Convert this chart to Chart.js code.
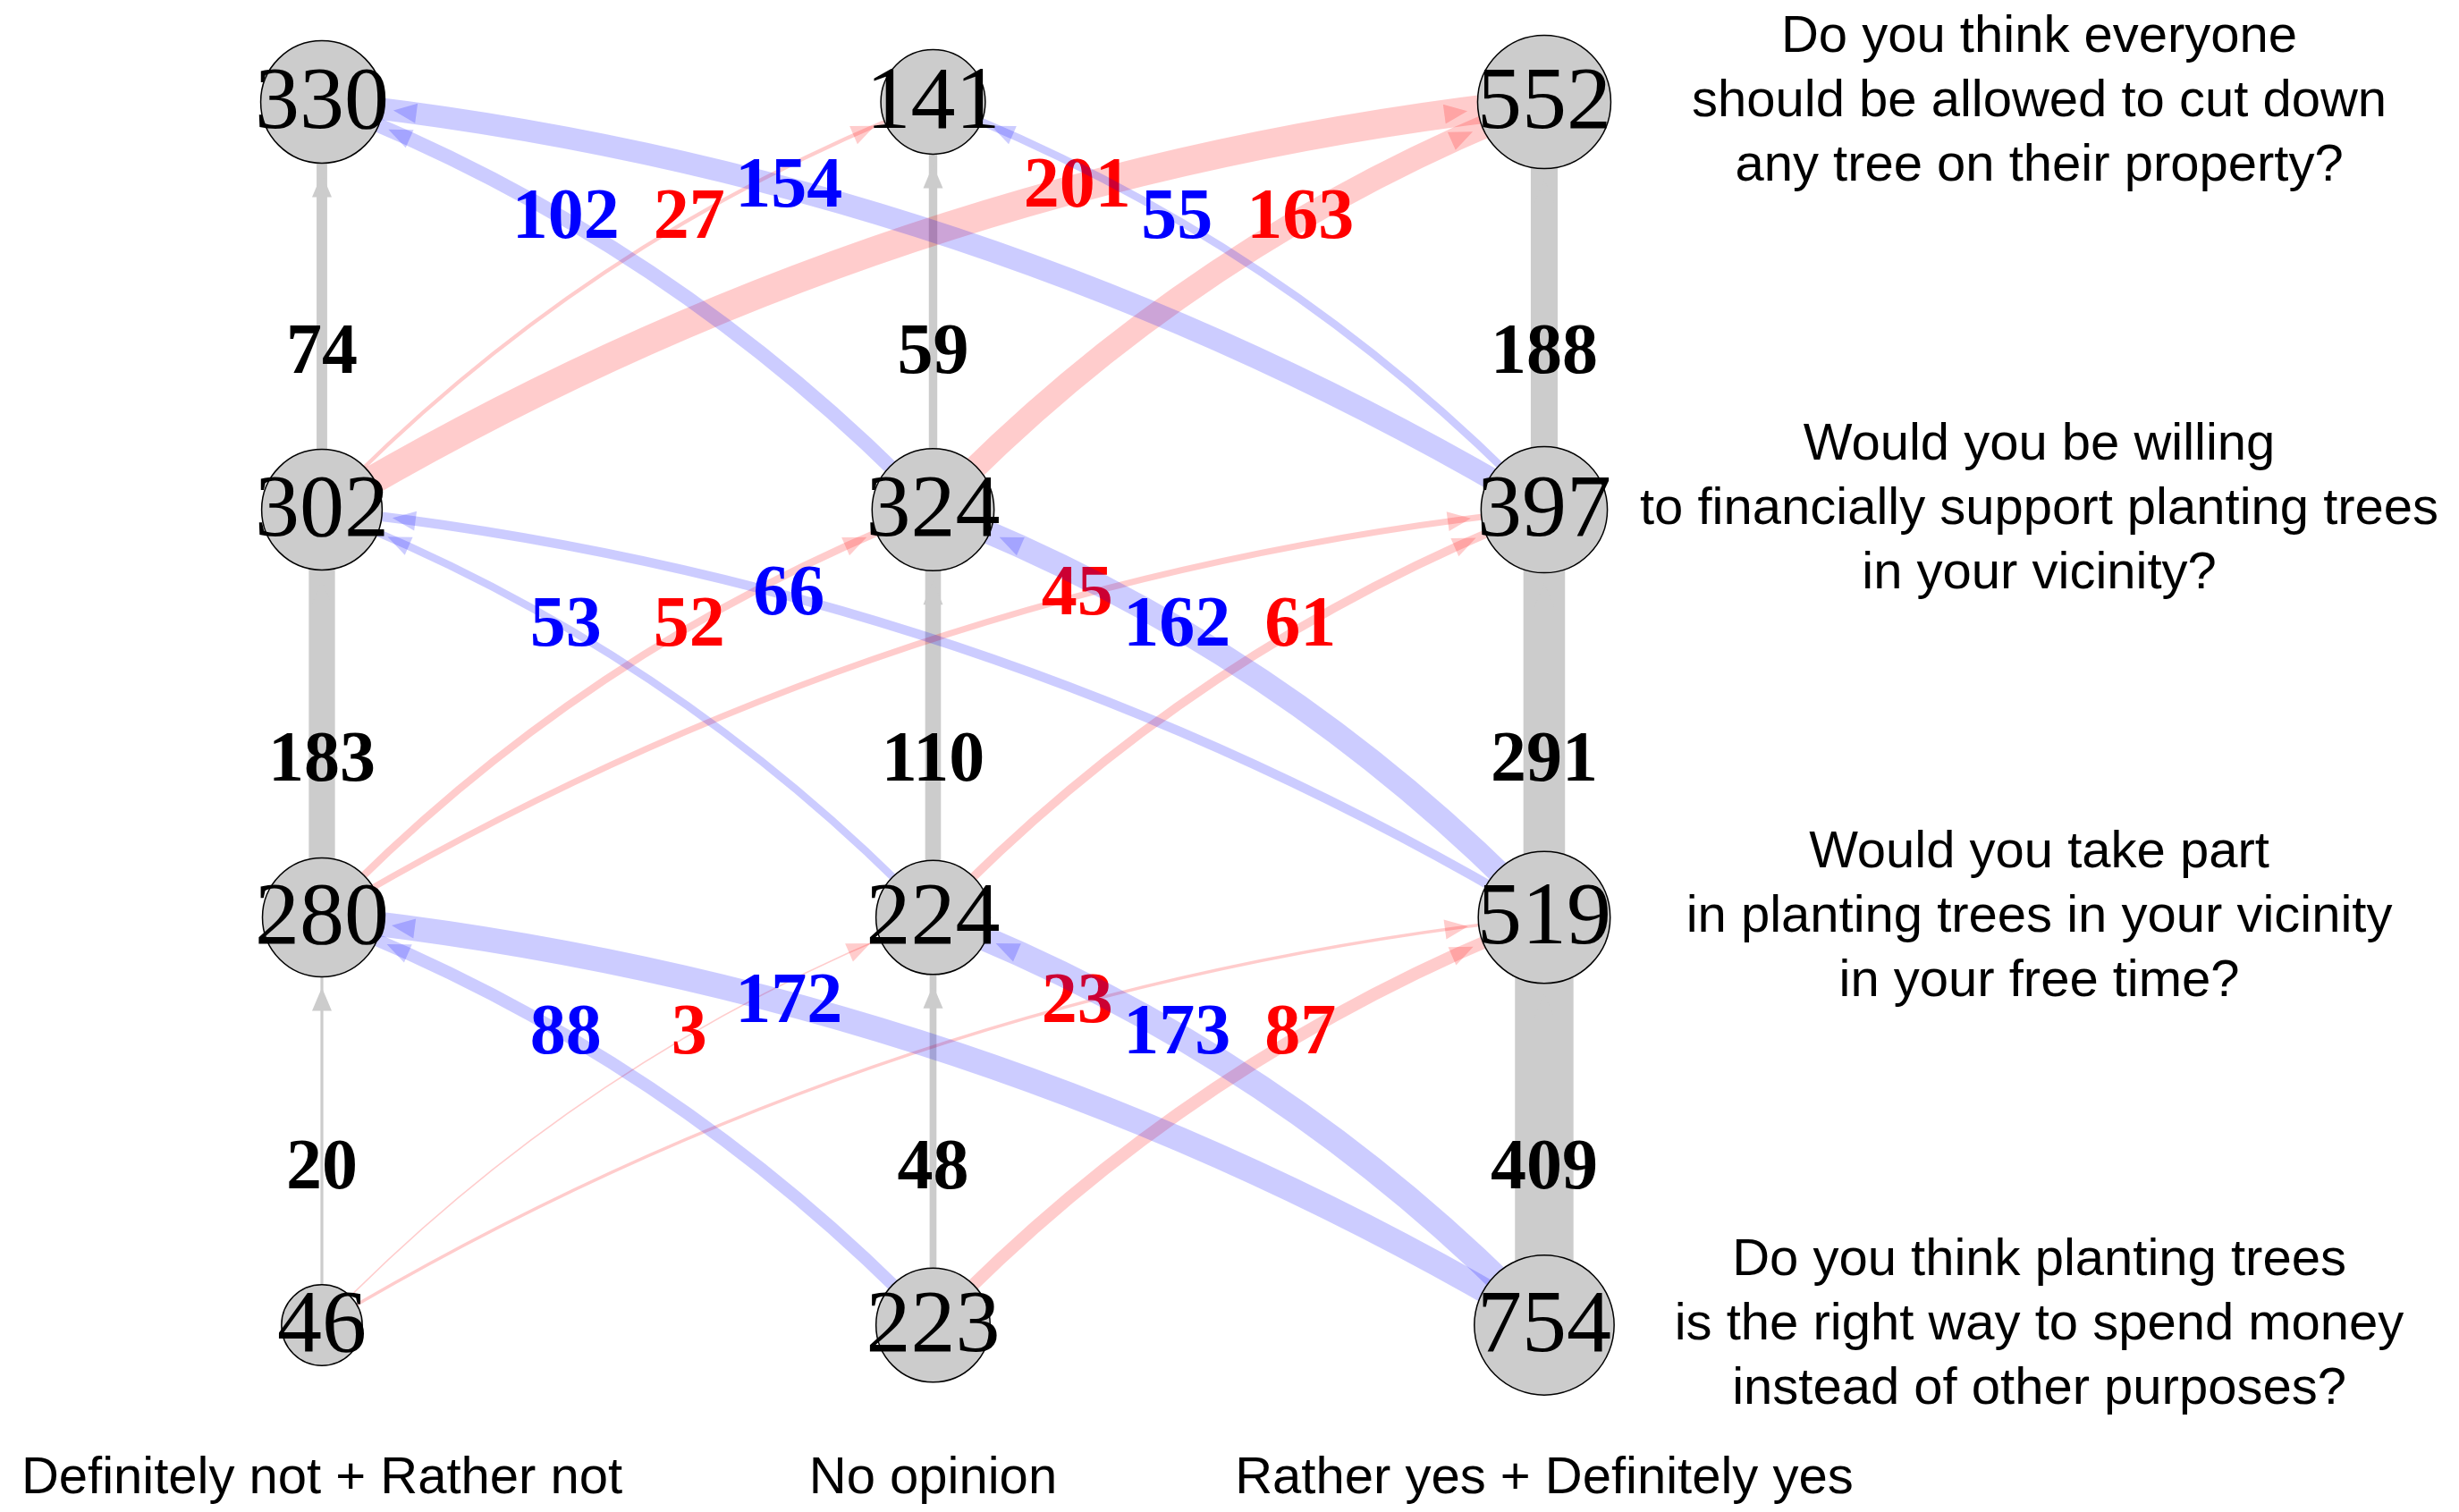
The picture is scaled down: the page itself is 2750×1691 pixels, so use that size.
<!DOCTYPE html>
<html>
<head>
<meta charset="utf-8">
<title>Answer changes between tree questions</title>
<script src="https://cdn.jsdelivr.net/npm/chart.js"></script>
<style>
  body { margin: 0; background: #fff; }
</style>
</head>
<body>
<canvas id="grafo" width="2750" height="1691"></canvas>
<script>
//answer groups, one column each
const answers = ['Definitely not + Rather not', 'No opinion', 'Rather yes + Definitely yes']
//questions, bottom row first
const questions = [
  ['Do you think planting trees', 'is the right way to spend money', 'instead of other purposes?'],
  ['Would you take part', 'in planting trees in your vicinity', 'in your free time?'],
  ['Would you be willing', 'to financially support planting trees', 'in your vicinity?'],
  ['Do you think everyone', 'should be allowed to cut down', 'any tree on their property?']
]
//respondents per answer group in each question
const countsQ4 = [46, 223, 754]
const countsQ3 = [280, 224, 519]
const countsQ2 = [302, 324, 397]
const countsQ1 = [330, 141, 552]
//flows[from group][to group] between two questions
const flowQ4toQ3 = [[20, 3, 23], [88, 48, 87], [172, 173, 409]]
const flowQ3toQ2 = [[183, 52, 45], [53, 110, 61], [66, 162, 291]]
const flowQ2toQ1 = [[74, 27, 201], [102, 59, 163], [154, 55, 188]]

const rows = [countsQ4, countsQ3, countsQ2, countsQ1]
const flows = [flowQ4toQ3, flowQ3toQ2, flowQ2toQ1]

const serif = "'Liberation Serif', 'Times New Roman', serif"
const sans = "'Liberation Sans', Arial, sans-serif"

//node size grows with the log of the count
const nodeRadius = n => 11.8 * Math.log(n)

const nodePoints = []
rows.forEach((row, r) => row.forEach((n, c) => nodePoints.push({x: c, y: r, r: nodeRadius(n), n: n})))

function bez(p0, p1, p2, t) {
  const a = (1 - t) * (1 - t), b = 2 * (1 - t) * t, c = t * t
  return {x: a * p0.x + b * p1.x + c * p2.x, y: a * p0.y + b * p1.y + c * p2.y}
}

//edges, arrows and their numbers go under the nodes
const edgePlugin = {
  id: 'edges',
  beforeDatasetsDraw(chart) {
    const {ctx, scales: {x, y}} = chart
    let edges = []
    flows.forEach((m, r) => m.forEach((fila, i) => fila.forEach((v, j) => edges.push({r, i, j, v}))))
    //gray ones first, then the coloured ones
    edges = edges.filter(e => e.i === e.j).concat(edges.filter(e => e.i !== e.j))

    edges.forEach(e => {
      const p0 = {x: x.getPixelForValue(e.i), y: y.getPixelForValue(e.r)}
      const p2 = {x: x.getPixelForValue(e.j), y: y.getPixelForValue(e.r + 1)}
      const dx = p2.x - p0.x, dy = p2.y - p0.y, len = Math.hypot(dx, dy)
      let nx = dy / len, ny = -dx / len
      if (ny > 0) { nx = -nx; ny = -ny }
      const bend = e.i === e.j ? 0 : 0.11 * len
      const p1 = {x: (p0.x + p2.x) / 2 + nx * bend, y: (p0.y + p2.y) / 2 + ny * bend}

      let col = 'rgba(255,0,0,0.2)', txt = '#FF0000'
      if (e.j < e.i) { col = 'rgba(0,0,255,0.2)'; txt = '#0000FF' }
      if (e.j === e.i) { col = '#CCCCCC'; txt = '#000000' }

      ctx.save()
      ctx.strokeStyle = col
      ctx.lineWidth = Math.max(0.16 * e.v, 1.5)
      ctx.lineCap = 'butt'
      ctx.beginPath()
      ctx.moveTo(p0.x, p0.y)
      ctx.quadraticCurveTo(p1.x, p1.y, p2.x, p2.y)
      ctx.stroke()

      //arrow head just outside the target node
      const reach = nodeRadius(rows[e.r + 1][e.j]) + 12
      let lo = 0.4, hi = 1
      for (let k = 0; k < 40; k++) {
        const mid = (lo + hi) / 2
        const q = bez(p0, p1, p2, mid)
        if (Math.hypot(q.x - p2.x, q.y - p2.y) > reach) lo = mid
        else hi = mid
      }
      const tip = bez(p0, p1, p2, lo)
      const back = bez(p0, p1, p2, lo - 0.01)
      const ul = Math.hypot(tip.x - back.x, tip.y - back.y)
      const ux = (tip.x - back.x) / ul, uy = (tip.y - back.y) / ul
      const alen = 26, ahw = 11
      ctx.fillStyle = col
      ctx.beginPath()
      ctx.moveTo(tip.x, tip.y)
      ctx.lineTo(tip.x - ux * alen - uy * ahw, tip.y - uy * alen + ux * ahw)
      ctx.lineTo(tip.x - ux * alen + uy * ahw, tip.y - uy * alen - ux * ahw)
      ctx.closePath()
      ctx.fill()

      //number of respondents on the edge
      const lp = bez(p0, p1, p2, e.i === e.j ? 0.38 : 0.635)
      ctx.fillStyle = txt
      ctx.font = `bold 80px ${serif}`
      ctx.textAlign = 'center'
      ctx.textBaseline = 'middle'
      ctx.fillText(String(e.v), lp.x, lp.y)
      ctx.restore()
    })
  }
}

//counts written on the nodes
const nodeLabelPlugin = {
  id: 'nodeLabels',
  afterDatasetsDraw(chart) {
    const {ctx} = chart
    const meta = chart.getDatasetMeta(0)
    ctx.save()
    ctx.fillStyle = '#000'
    ctx.font = `100px ${serif}`
    ctx.textAlign = 'center'
    ctx.textBaseline = 'middle'
    meta.data.forEach((pt, k) => {
      ctx.fillText(String(nodePoints[k].n), pt.x, pt.y + 3)
    })
    ctx.restore()
  }
}

new Chart(document.getElementById('grafo'), {
  type: 'bubble',
  data: {
    datasets: [{
      data: nodePoints,
      backgroundColor: '#CCCCCC',
      borderColor: '#000000',
      borderWidth: 1.5,
      hoverBorderWidth: 1.5,
      hoverRadius: 0,
      clip: false
    }]
  },
  options: {
    responsive: false,
    animation: false,
    layout: {autoPadding: false, padding: {top: 114, right: 0, bottom: 0, left: 0}},
    plugins: {legend: {display: false}, tooltip: {enabled: false}},
    scales: {
      x: {
        type: 'linear',
        min: -0.5267,
        max: 2.1566,
        grid: {display: false, drawTicks: false},
        border: {display: false},
        afterBuildTicks: s => { s.ticks = answers.map((a, i) => ({value: i})) },
        afterFit: s => { s.height = 104; s.paddingLeft = 0; s.paddingRight = 0 },
        ticks: {
          autoSkip: false, maxRotation: 0, minRotation: 0, padding: 32, color: '#000',
          font: {family: sans, size: 58, lineHeight: 1.2},
          callback: v => answers[v]
        }
      },
      y: {
        type: 'linear',
        position: 'right',
        min: -0.2303,
        max: 3,
        grid: {display: false, drawTicks: false},
        border: {display: false},
        afterBuildTicks: s => { s.ticks = questions.map((q, i) => ({value: i})) },
        afterFit: s => { s.width = 916; s.paddingTop = 0; s.paddingBottom = 0 },
        ticks: {
          autoSkip: false, crossAlign: 'center', padding: 0, color: '#000',
          font: {family: sans, size: 58, lineHeight: 1.24},
          callback: v => questions[v]
        }
      }
    }
  },
  plugins: [edgePlugin, nodeLabelPlugin]
})
</script>
</body>
</html>
